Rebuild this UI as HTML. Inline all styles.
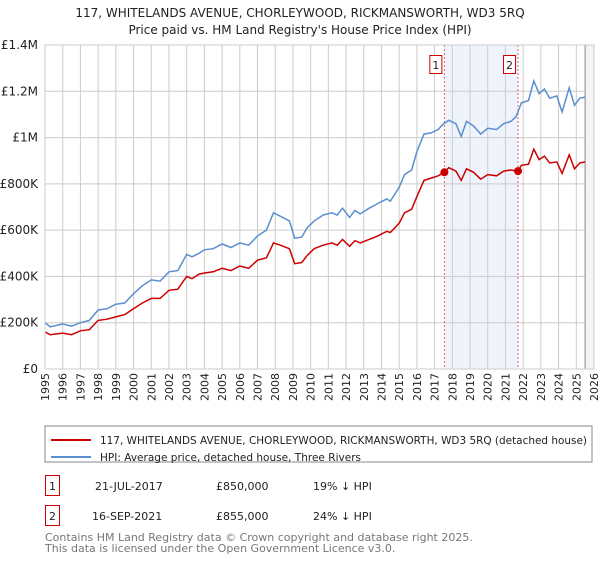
<!DOCTYPE html>
<html><head><meta charset="utf-8"><style>
body{margin:0;background:#fff;font-family:"Liberation Sans","DejaVu Sans",sans-serif;}
svg text{font-family:"DejaVu Sans","Liberation Sans",sans-serif;}
</style></head><body>
<svg id="c" width="600" height="560" xmlns="http://www.w3.org/2000/svg">
<text x="300" y="17" text-anchor="middle" font-size="12" fill="#222">117, WHITELANDS AVENUE, CHORLEYWOOD, RICKMANSWORTH, WD3 5RQ</text>
<text x="300" y="34" text-anchor="middle" font-size="12" fill="#222">Price paid vs. HM Land Registry's House Price Index (HPI)</text>
<g id="plot"></g>
<rect x="45" y="426" width="547" height="36" fill="#fff" stroke="#888"/>
<line x1="51" y1="440" x2="91" y2="440" stroke="#cc0000" stroke-width="2"/>
<text x="100" y="444" font-size="11" fill="#222" textLength="487" lengthAdjust="spacingAndGlyphs">117, WHITELANDS AVENUE, CHORLEYWOOD, RICKMANSWORTH, WD3 5RQ (detached house)</text>
<line x1="51" y1="457" x2="91" y2="457" stroke="#5b8fd0" stroke-width="2"/>
<text x="100" y="461" font-size="11" fill="#222" textLength="261" lengthAdjust="spacingAndGlyphs">HPI: Average price, detached house, Three Rivers</text>
<rect x="45.5" y="475.5" width="14" height="20" fill="#fff" stroke="#cc0000"/>
<text x="52.5" y="490" text-anchor="middle" font-size="11" fill="#222">1</text>
<text x="95" y="490" font-size="11" fill="#222">21-JUL-2017</text>
<text x="216" y="490" font-size="11" fill="#222">£850,000</text>
<text x="313" y="490" font-size="11" fill="#222">19% ↓ HPI</text>
<rect x="45.5" y="505.5" width="14" height="20" fill="#fff" stroke="#cc0000"/>
<text x="52.5" y="520" text-anchor="middle" font-size="11" fill="#222">2</text>
<text x="92" y="520" font-size="11" fill="#222">16-SEP-2021</text>
<text x="216" y="520" font-size="11" fill="#222">£855,000</text>
<text x="313" y="520" font-size="11" fill="#222">24% ↓ HPI</text>
<text x="45" y="541" font-size="11" fill="#777">Contains HM Land Registry data © Crown copyright and database right 2025.</text>
<text x="45" y="552" font-size="11" fill="#777">This data is licensed under the Open Government Licence v3.0.</text>
</svg>
<script>
const hpiT=[1995,1995.3,1996,1996.5,1997,1997.5,1998,1998.5,1999,1999.5,2000,2000.5,2001,2001.5,2002,2002.5,2003,2003.3,2003.7,2004,2004.5,2005,2005.5,2006,2006.5,2007,2007.5,2007.9,2008.3,2008.8,2009.1,2009.5,2009.8,2010.2,2010.7,2011.2,2011.5,2011.8,2012.2,2012.5,2012.8,2013.3,2013.8,2014.3,2014.5,2015,2015.3,2015.7,2016,2016.4,2016.8,2017.2,2017.5,2017.8,2018.2,2018.5,2018.8,2019.2,2019.6,2020,2020.5,2020.9,2021.3,2021.6,2021.9,2022.3,2022.6,2022.9,2023.2,2023.5,2023.9,2024.2,2024.6,2024.9,2025.2,2025.5];
const hpiV=[200,182,195,185,200,210,255,260,280,285,325,360,385,380,420,425,495,485,500,515,520,540,525,545,535,575,600,675,660,640,565,570,610,640,665,675,665,695,655,685,670,695,715,735,725,785,840,860,940,1015,1020,1035,1060,1075,1060,1005,1070,1050,1015,1040,1035,1060,1070,1090,1150,1160,1245,1190,1210,1170,1180,1110,1215,1140,1170,1175];
const priceT=[1995,1995.3,1996,1996.5,1997,1997.5,1998,1998.5,1999,1999.5,2000,2000.5,2001,2001.5,2002,2002.5,2003,2003.3,2003.7,2004,2004.5,2005,2005.5,2006,2006.5,2007,2007.5,2007.9,2008.3,2008.8,2009.1,2009.5,2009.8,2010.2,2010.7,2011.2,2011.5,2011.8,2012.2,2012.5,2012.8,2013.3,2013.8,2014.3,2014.5,2015,2015.3,2015.7,2016,2016.4,2016.8,2017.2,2017.55,2017.8,2018.2,2018.5,2018.8,2019.2,2019.6,2020,2020.5,2020.9,2021.3,2021.71,2021.9,2022.3,2022.6,2022.9,2023.2,2023.5,2023.9,2024.2,2024.6,2024.9,2025.2,2025.5];
const priceV=[160,148,155,148,165,170,210,215,225,235,260,285,305,305,340,345,400,390,410,415,420,435,425,445,435,470,480,545,535,520,455,460,490,520,535,545,535,560,530,555,545,560,575,595,590,630,675,690,745,815,825,835,850,870,855,815,865,850,820,840,835,855,860,855,880,885,950,905,920,890,895,845,925,865,890,895];
const saleT=[2017.55,2021.71];
const saleV=[850,855];
const saleLabels=["1","2"];
const yTicks=[0,200,400,600,800,1000,1200,1400];
const yTickLabels=["£0","£200K","£400K","£600K","£800K","£1M","£1.2M","£1.4M"];
const xYears=[1995,1996,1997,1998,1999,2000,2001,2002,2003,2004,2005,2006,2007,2008,2009,2010,2011,2012,2013,2014,2015,2016,2017,2018,2019,2020,2021,2022,2023,2024,2025,2026];

const NS="http://www.w3.org/2000/svg";
const X0=45,X1=594,Y0=369,Y1=45;
const xs=t=>X0+(t-1995)/(2026-1995)*(X1-X0);
const ys=v=>Y0-v/1400*(Y0-Y1);
const g=document.getElementById('plot');
function mk(tag,a){const e=document.createElementNS(NS,tag);for(const k in a)e.setAttribute(k,a[k]);g.appendChild(e);return e;}
let e;
e=mk('rect',{x:xs(saleT[0]),y:Y1,width:xs(saleT[1])-xs(saleT[0]),height:Y0-Y1,fill:'#eef3fc'});


xYears.forEach(yr=>{
 e=mk('line',{x1:xs(yr),x2:xs(yr),y1:Y1,y2:Y0,stroke:'#ccc','stroke-width':1});
 
 
 const x=xs(yr)+4;
 e=mk('text',{x:x,y:373,transform:`rotate(-90 ${x} 373)`,'text-anchor':'end','font-size':11,fill:'#222'});
 e.textContent=yr;
 
 
});
yTicks.forEach((v,i)=>{
 e=mk('line',{x1:X0,x2:X1,y1:ys(v),y2:ys(v),stroke:'#ccc','stroke-width':1});
 
 
 e=mk('text',{x:38,y:ys(v)+4,'text-anchor':'end','font-size':12,fill:'#222'});
 e.textContent=yTickLabels[i];
 
 
});
const hx=xs(2025.5);
e=mk('rect',{x:hx,y:Y1,width:X1-hx,height:Y0-Y1,fill:'#f4f4f4'});


e=mk('line',{x1:hx,x2:hx,y1:Y1,y2:Y0,stroke:'#999','stroke-width':1.2});


saleT.forEach((t,i)=>{
 e=mk('line',{x1:xs(t),x2:xs(t),y1:Y1,y2:Y0,stroke:'#e06060','stroke-width':1,'stroke-dasharray':'2,2'});
 
 
 e=mk('rect',{x:xs(t)-14.5,y:55.5,width:12,height:18,fill:'#fff',stroke:'#cc0000'});
 
 
 e=mk('text',{x:xs(t)-8.5,y:69,'text-anchor':'middle','font-size':11,fill:'#222'});
 e.textContent=saleLabels[i];
 
 
});
function path(T,V,col,name){
 const d=T.map((t,i)=>(i?'L':'M')+xs(t).toFixed(1)+','+ys(V[i]).toFixed(1)).join('');
 e=mk('path',{d:d,fill:'none',stroke:col,'stroke-width':1.5});
 
 
}
path(hpiT,hpiV,'#5b8fd0','hpi-line');
path(priceT,priceV,'#cc0000','price-line');
saleT.forEach((t,i)=>{
 e=mk('circle',{cx:xs(t),cy:ys(saleV[i]),r:4,fill:'#cc0000'});
 
 
});
e=mk('rect',{x:X0,y:Y1,width:X1-X0,height:Y0-Y1,fill:'none',stroke:'#ccc'});


</script>
</body></html>
